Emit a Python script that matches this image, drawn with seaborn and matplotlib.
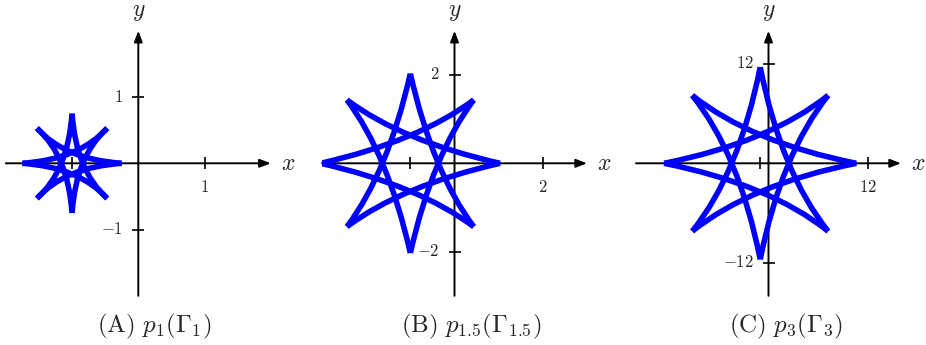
import numpy as np
import matplotlib
matplotlib.use("Agg")
import matplotlib.pyplot as plt
from matplotlib.path import Path
from matplotlib.patches import PathPatch
import seaborn as sns

# Panel data
captions = [r'$\mathrm{(A)}\ p_1(\Gamma_1)$',
            r'$\mathrm{(B)}\ p_{1.5}(\Gamma_{1.5})$',
            r'$\mathrm{(C)}\ p_3(\Gamma_3)$']
axis_limits = [2, 3, 16]
star_centers = [-1.0, -1.0, -1.0]
tip_radii = [0.75, 2.03, 11.6]
# control point of one edge (axis tip -> diagonal tip), in units of the tip radius
bend_x = [-0.15, -0.10, -0.10]
bend_y = [0.08, 0.25, 0.22]
x_ticks = [[-1, 1], [-1, 2], [-1, 12]]
x_tick_labels = [['', r'$1$'], ['', r'$2$'], ['', r'$12$']]
y_ticks = [[1, -1], [2, -2], [12, -12]]
y_tick_labels = [[r'$1$', r'$-1$'], [r'$2$', r'$-2$'], [r'$12$', r'$-12$']]

# layout in pixels (figure is 926 x 345)
W, H = 926, 345
axes_left = [5.8, 322, 636]
axes_size = 265
axes_bottom = 295.8
caption_x = [154, 471, 786]

sns.set_theme(style="white")
plt.rcParams['mathtext.fontset'] = 'cm'
plt.rcParams['font.family'] = ['DejaVu Serif']

fig = plt.figure(figsize=(W / 100, H / 100), dpi=100)

for i in range(3):
    ax = fig.add_axes([axes_left[i] / W, 1 - axes_bottom / H, axes_size / W, axes_size / H])
    L = axis_limits[i]
    ax.set_xlim(-L, L)
    ax.set_ylim(-L, L)
    ax.axis('off')

    # axes with arrows
    arrow = dict(arrowstyle='-|>,head_length=0.65,head_width=0.25', lw=1.4,
                 color='black', shrinkA=0, shrinkB=0, mutation_scale=10)
    ax.annotate('', xy=(L, 0), xytext=(-L, 0), arrowprops=arrow, annotation_clip=False)
    ax.annotate('', xy=(0, L), xytext=(0, -L), arrowprops=arrow, annotation_clip=False)
    ax.annotate(r'$x$', xy=(L, 0), xytext=(10, 0), textcoords='offset pixels',
                ha='left', va='center', fontsize=17, annotation_clip=False)
    ax.annotate(r'$y$', xy=(0, L), xytext=(0, 15), textcoords='offset pixels',
                ha='center', va='baseline', fontsize=17, annotation_clip=False)

    # ticks
    ax.plot(x_ticks[i], [0] * len(x_ticks[i]), ls='', marker='|', ms=8, mew=1.2,
            color='black', clip_on=False)
    ax.plot([0] * len(y_ticks[i]), y_ticks[i], ls='', marker='_', ms=8, mew=1.2,
            color='black', clip_on=False)
    for t, lab in zip(x_ticks[i], x_tick_labels[i]):
        if lab:
            ax.annotate(lab, xy=(t, 0), xytext=(0, -16), textcoords='offset pixels',
                        ha='center', va='top', fontsize=12, annotation_clip=False)
    for t, lab in zip(y_ticks[i], y_tick_labels[i]):
        ax.annotate(lab, xy=(0, t), xytext=(-15, 0), textcoords='offset pixels',
                    ha='right', va='center', fontsize=12, annotation_clip=False)

    # star: each axis tip joined to the two diagonal tips 135 degrees away
    cx, R = star_centers[i], tip_radii[i]
    for phi in [0, 90, 180, 270]:
        a = np.radians(phi)
        rot = np.array([[np.cos(a), -np.sin(a)], [np.sin(a), np.cos(a)]])
        p0 = np.array([cx, 0]) + R * rot @ np.array([1.0, 0.0])
        for s in (1, -1):
            b = np.radians(phi + s * 135)
            p2 = np.array([cx, 0]) + R * np.array([np.cos(b), np.sin(b)])
            ctrl = np.array([cx, 0]) + R * rot @ np.array([bend_x[i], s * bend_y[i]])
            path = Path([p0, ctrl, p2], [Path.MOVETO, Path.CURVE3, Path.CURVE3])
            ax.add_patch(PathPatch(path, fill=False, edgecolor='#0000ff', lw=4,
                                   capstyle='butt', zorder=3))

    fig.text(caption_x[i] / W, 1 - 326 / H, captions[i], ha='center', va='center',
             fontsize=18)

fig.savefig("out.png", dpi=100)
